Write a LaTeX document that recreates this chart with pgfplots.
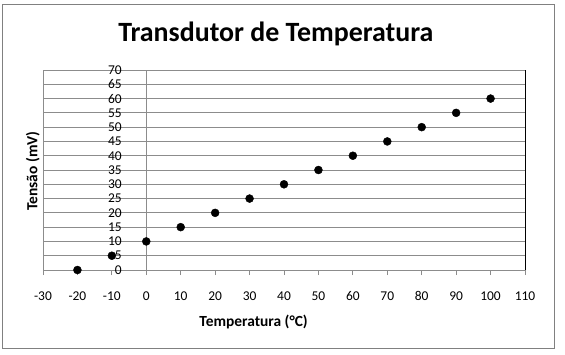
\documentclass[border=0pt]{standalone}
\usepackage{fontspec}
\setmainfont{Carlito}
\usepackage{pgfplots}
\pgfplotsset{compat=1.18}
\usetikzlibrary{calc}
\begin{document}
\begin{tikzpicture}[x=1bp,y=1bp]
\begin{axis}[name=ax, at={(0,0)}, anchor=south west,
  scale only axis, width=482bp, height=200bp,
  xmin=-30, xmax=110, ymin=0, ymax=70,
  xtick={-30,-20,...,110},
  xticklabels={-30,-20,-10,0,10,20,30,40,50,60,70,80,90,100,110},
  ytick={0,5,...,70},
  ymajorgrids, grid style={color=black!45, line width=0.8pt},
  axis line style={color=black!45, line width=0.8pt},
  tick label style={font=\fontsize{13.5}{15}\selectfont},
  /pgf/number format/assume math mode=true,
  xtick pos=bottom, tick align=outside, major tick length=5bp,
  xtick style={color=black!45, line width=0.8pt},
  ytick style={draw=none},
  yticklabel style={anchor=east, inner sep=0pt, xshift=84bp},
  xticklabel style={anchor=base, inner sep=0pt, yshift=-25bp},
  title={Transdutor de Temperatura},
  title style={font=\bfseries\fontsize{28}{32}\selectfont, at={(axis description cs:0.483,1.15)}, anchor=center},
  xlabel={Temperatura (°C)},
  xlabel style={font=\bfseries\fontsize{15.5}{18}\selectfont, at={(axis description cs:0.437,-0.26)}, anchor=center},
  ylabel={Tensão (mV)},
  ylabel style={font=\bfseries\fontsize{15.5}{18}\selectfont, at={(axis description cs:-0.021,0.495)}, anchor=center, rotate=0},
  clip=false
]
\draw[color=black!45, line width=0.8pt] (axis cs:0,0) -- (axis cs:0,70);
\draw[black, line width=0.9pt] (axis cs:110,0) -- (axis cs:110,70);
\addplot[only marks, mark=*, mark size=4bp, black] coordinates {
(-20,0) (-10,5) (0,10) (10,15) (20,20) (30,25) (40,30) (50,35) (60,40) (70,45) (80,50) (90,55) (100,60)
};
\end{axis}
\draw[color=black!50, line width=1bp] ($(ax.south west)+(-40bp,-78bp)$) rectangle ($(ax.south west)+(511bp,265bp)$);
\useasboundingbox ($(ax.south west)+(-43bp,-85bp)$) rectangle ($(ax.south west)+(522bp,270bp)$);
\end{tikzpicture}
\end{document}
